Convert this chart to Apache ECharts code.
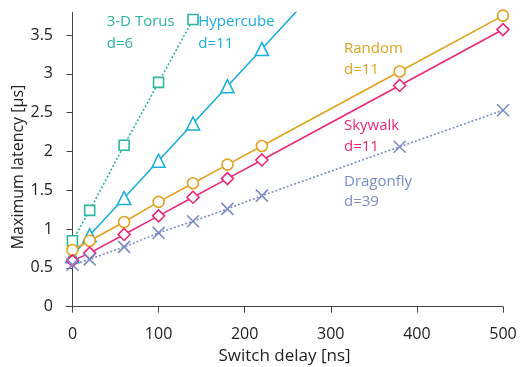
<!DOCTYPE html>
<html><head><meta charset="utf-8">
<script src="https://cdn.jsdelivr.net/npm/echarts@6/dist/echarts.min.js"></script>
<style>html,body{margin:0;padding:0;background:#fff}#c{width:520px;height:367px}</style>
</head><body><div id="c"></div>
<script>
const switchDelay = [0, 20, 60, 100, 140, 180, 220, 380, 500];
const torus     = [0.85, 1.24, 2.08, 2.89, 3.70];
const hypercube = [0.65, 0.92, 1.40, 1.88, 2.36, 2.84, 3.32, 5.25];
const random    = [0.73, 0.85, 1.09, 1.35, 1.59, 1.83, 2.07, 3.03, 3.75];
const skywalk   = [0.59, 0.69, 0.93, 1.17, 1.41, 1.65, 1.89, 2.85, 3.57];
const dragonfly = [0.54, 0.61, 0.77, 0.95, 1.10, 1.26, 1.43, 2.06, 2.53];
const yTicks = [0, 0.5, 1, 1.5, 2, 2.5, 3, 3.5];
const xTicks = [0, 100, 200, 300, 400, 500];
const seriesNames = ['3-D Torus', 'Hypercube', 'Random', 'Skywalk', 'Dragonfly'];
const seriesDegree = ['d=6', 'd=11', 'd=11', 'd=11', 'd=39'];
const yAxisTitle = 'Maximum latency [μs]';

const FONT = '"Open Sans", "Noto Sans", sans-serif';
const colors = ['#2cb5a0', '#1aaedc', '#e2a21e', '#e8287a', '#7a8cc8'];
const pair = arr => arr.map((v, i) => [switchDelay[i], v]);

function mk(idx, data, symbol, size, dotted) {
  return {
    name: seriesNames[idx], type: 'line', data: pair(data),
    symbol: symbol, symbolSize: size, clip: true,
    lineStyle: { color: colors[idx], width: 1.6, type: dotted ? [2, 2] : 'solid' },
    itemStyle: { color: symbol.startsWith('path') ? 'none' : '#fff', borderColor: colors[idx], borderWidth: 1.6 },
    emphasis: { disabled: true }, z: 2 + idx
  };
}

const labelPos = [
  [106.7, 22, 44], [198.3, 22, 44], [344, 49, 70], [344, 126, 147], [344, 182, 202]
];
const graphics = [];
labelPos.forEach((p, i) => {
  [seriesNames[i], seriesDegree[i]].forEach((t, j) => {
    graphics.push({ type: 'text', x: p[0], y: p[1 + j], z: 100,
      style: { text: t, fill: colors[i], font: '15px ' + FONT, verticalAlign: 'middle', align: 'left' } });
  });
});
graphics.push({ type: 'text', x: 18, y: 167, rotation: Math.PI / 2, z: 100,
  style: { text: yAxisTitle, fill: '#222', font: '16px ' + FONT, align: 'center', verticalAlign: 'middle' } });

const chart = echarts.init(document.getElementById('c'), null, { renderer: 'canvas' });
chart.setOption({
  animation: false,
  backgroundColor: '#fff',
  grid: { left: 66, right: 17, top: 12.5, bottom: 55.3, containLabel: false, outerBoundsMode: 'none' },
  xAxis: {
    type: 'value', min: -7.5, max: 500,
    name: 'Switch delay [ns]', nameLocation: 'middle', nameGap: 36,
    nameTextStyle: { fontFamily: FONT, fontSize: 17, color: '#222' },
    splitLine: { show: false },
    axisLine: { onZero: true, lineStyle: { color: '#444', width: 1 } },
    axisTick: { customValues: xTicks, length: 6, lineStyle: { color: '#444' } },
    axisLabel: { customValues: xTicks, margin: 15, fontFamily: FONT, fontSize: 16, color: '#222' }
  },
  yAxis: {
    type: 'value', min: -0.065, max: 3.79,
    splitLine: { show: false },
    axisLine: { show: true, onZero: true, lineStyle: { color: '#444', width: 1 } },
    axisTick: { show: true, customValues: yTicks, length: 6, lineStyle: { color: '#444' } },
    axisLabel: { customValues: yTicks, margin: 13, fontFamily: FONT, fontSize: 16, color: '#222' }
  },
  series: [
    mk(0, torus, 'rect', 10, true),
    mk(1, hypercube, 'triangle', 13, false),
    mk(2, random, 'circle', 11, false),
    mk(3, skywalk, 'diamond', 12, false),
    mk(4, dragonfly, 'path://M0,0L10,10M10,0L0,10', 12, true)
  ],
  graphic: graphics
});
</script></body></html>
